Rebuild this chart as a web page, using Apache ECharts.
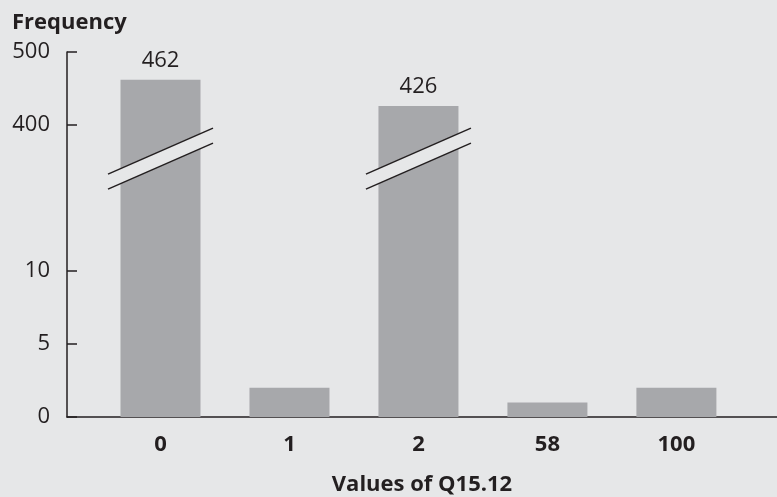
<!DOCTYPE html>
<html>
<head>
<meta charset="utf-8">
<title>Values of Q15.12</title>
<script src="https://cdn.jsdelivr.net/npm/echarts@6.0.0/dist/echarts.min.js"></script>
<style>
  html, body { margin: 0; padding: 0; background: #e6e7e8; }
  #chart { width: 777px; height: 497px; }
</style>
</head>
<body>
<div id="chart"></div>
<script>
// Answer values and their frequencies
const categories = ['0', '1', '2', '58', '100'];
const frequencies = [462, 2, 426, 1, 2];
const yTickValues = [0, 5, 10, 400, 500];

// Broken value axis: 0–10 drawn at full scale, then a gap, then 400–500 compressed.
const LOW_MAX = 10;
const HIGH_MIN = 400;
const GAP = 10;          // axis units left empty between 10 and 400
const HIGH_SCALE = 0.05; // axis units per count above the break
const BREAK_AT = 17.7;   // where the cut marks sit on the axis

function toAxis(v) {
  return v <= LOW_MAX ? v : LOW_MAX + GAP + (v - HIGH_MIN) * HIGH_SCALE;
}
function fromAxis(t) {
  return t <= LOW_MAX ? t : HIGH_MIN + (t - LOW_MAX - GAP) / HIGH_SCALE;
}

const FONT = 'Open Sans';
const FS = 22;
const INK = '#231f20';
const BAR = '#a7a8ab';
const BG = '#e6e7e8';

const barData = frequencies.map((v, i) => ({
  value: [i, toAxis(v)],
  raw: v,
  label: { show: v > LOW_MAX }
}));
const brokenBars = frequencies
  .map((v, i) => [i, toAxis(v)])
  .filter((d, i) => frequencies[i] > LOW_MAX);

const chart = echarts.init(document.getElementById('chart'), null, { renderer: 'canvas' });

chart.setOption({
  backgroundColor: BG,
  animation: false,
  title: {
    text: 'Frequency',
    left: 7,
    top: 7,
    textStyle: { fontFamily: FONT, fontWeight: 'bold', fontSize: FS, color: INK }
  },
  grid: { left: 67, right: 0, top: 52, bottom: 80, containLabel: false, outerBoundsMode: 'none' },
  xAxis: {
    type: 'value',
    min: -0.725,
    max: 4.78,
    splitLine: { show: false },
    axisLine: { show: true, onZero: false, lineStyle: { color: INK, width: 1.5 } },
    axisTick: { show: false },
    axisLabel: {
      customValues: categories.map((c, i) => i),
      formatter: v => categories[Math.round(v)],
      fontFamily: FONT, fontWeight: 'bold', fontSize: FS, color: INK,
      margin: 17
    },
    name: 'Values of Q15.12',
    nameLocation: 'middle',
    nameGap: 57,
    nameTextStyle: { fontFamily: FONT, fontWeight: 'bold', fontSize: FS, color: INK }
  },
  yAxis: {
    type: 'value',
    min: 0,
    max: toAxis(500),
    splitLine: { show: false },
    axisLine: { show: true, onZero: false, lineStyle: { color: INK, width: 1.5 } },
    axisTick: {
      show: true, inside: true, length: 10,
      customValues: yTickValues.map(toAxis),
      lineStyle: { color: INK, width: 1.5 }
    },
    axisLabel: {
      customValues: yTickValues.map(toAxis),
      formatter: t => String(Math.round(fromAxis(t))),
      fontFamily: FONT, fontSize: FS, color: INK,
      margin: 17
    }
  },
  series: [
    {
      type: 'bar',
      data: barData,
      barWidth: 80,
      itemStyle: { color: BAR },
      label: {
        position: 'top',
        distance: 8,
        formatter: p => String(p.data.raw),
        fontFamily: FONT, fontSize: FS, color: INK
      },
      z: 2
    },
    {
      // double slanted cut marks across the bars that pass the break
      type: 'custom',
      data: brokenBars,
      z: 5,
      renderItem: (params, api) => {
        const c = api.coord([api.value(0), BREAK_AT]);
        const half = 52.5, rise = 23, sep = 7.5;
        const l1a = [c[0] - half, c[1] - sep + rise];
        const l1b = [c[0] + half, c[1] - sep - rise];
        const l2a = [c[0] - half, c[1] + sep + rise];
        const l2b = [c[0] + half, c[1] + sep - rise];
        const line = { stroke: INK, lineWidth: 1.5 };
        return {
          type: 'group',
          children: [
            { type: 'polygon', shape: { points: [l1a, l1b, l2b, l2a] }, style: { fill: BG } },
            { type: 'line', shape: { x1: l1a[0], y1: l1a[1], x2: l1b[0], y2: l1b[1] }, style: line },
            { type: 'line', shape: { x1: l2a[0], y1: l2a[1], x2: l2b[0], y2: l2b[1] }, style: line }
          ]
        };
      }
    }
  ]
});
</script>
</body>
</html>
